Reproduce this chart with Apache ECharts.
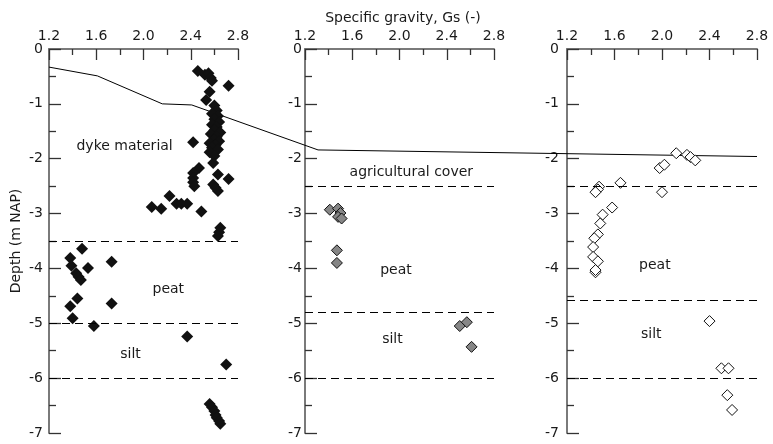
<!DOCTYPE html>
<html>
<head>
<meta charset="utf-8">
<script src="https://cdn.jsdelivr.net/npm/echarts@6/dist/echarts.min.js"></script>
<style>
  html, body { margin: 0; padding: 0; background: #fff; }
  #chart { width: 773px; height: 444px; }
</style>
</head>
<body>
<div id="chart"></div>
<script>
// ---- data ----
const gsMin = 1.2, gsMax = 2.8, gsStep = 0.4;
const depthMin = -7, depthMax = 0, depthStep = 1;

const titleText = 'Specific gravity, Gs (-)';
const yName = 'Depth (m NAP)';

// Panel 1 (dyke) : [Gs, depth]
const panel1Points = [
  [2.46,-0.40],[2.52,-0.47],[2.55,-0.44],[2.57,-0.53],[2.58,-0.58],[2.72,-0.67],[2.56,-0.78],[2.53,-0.93],
  [2.60,-1.03],[2.62,-1.12],[2.58,-1.18],[2.63,-1.22],[2.60,-1.28],[2.64,-1.33],[2.58,-1.38],[2.62,-1.42],
  [2.60,-1.48],[2.65,-1.52],[2.57,-1.55],[2.62,-1.60],[2.60,-1.65],[2.64,-1.68],[2.56,-1.72],[2.61,-1.75],
  [2.58,-1.80],[2.63,-1.83],[2.56,-1.88],[2.42,-1.70],[2.60,-1.95],
  [2.59,-2.08],[2.47,-2.17],[2.42,-2.26],[2.42,-2.35],[2.42,-2.43],[2.43,-2.50],[2.63,-2.29],[2.72,-2.37],
  [2.59,-2.47],[2.61,-2.53],[2.63,-2.59],[2.22,-2.68],[2.07,-2.88],[2.15,-2.91],[2.28,-2.82],[2.32,-2.82],
  [2.37,-2.82],[2.49,-2.96],[2.65,-3.26],[2.64,-3.34],[2.63,-3.41],
  [1.48,-3.64],[1.38,-3.81],[1.39,-3.95],[1.53,-3.99],[1.73,-3.88],[1.43,-4.09],[1.45,-4.15],[1.47,-4.21],
  [1.44,-4.55],[1.38,-4.69],[1.73,-4.64],[1.40,-4.91],[1.58,-5.05],
  [2.37,-5.24],[2.70,-5.75],
  [2.56,-6.47],[2.58,-6.53],[2.60,-6.60],[2.61,-6.67],[2.62,-6.72],[2.64,-6.78],[2.65,-6.83]
];
// Panel 2
const panel2Points = [
  [1.41,-2.93],[1.48,-2.91],[1.50,-2.99],[1.48,-3.06],[1.51,-3.09],[1.47,-3.67],[1.47,-3.90],
  [2.51,-5.05],[2.57,-4.98],[2.61,-5.43]
];
// Panel 3
const panel3Points = [
  [2.12,-1.90],[2.21,-1.93],[2.24,-1.97],[2.28,-2.03],[1.98,-2.17],[2.02,-2.11],[2.00,-2.61],
  [1.65,-2.44],[1.47,-2.51],[1.46,-2.56],[1.44,-2.61],[1.58,-2.89],[1.50,-3.02],[1.48,-3.18],
  [1.46,-3.38],[1.43,-3.45],[1.42,-3.61],[1.42,-3.79],[1.46,-3.87],[1.44,-4.07],[1.44,-4.03],
  [2.40,-4.96],[2.50,-5.82],[2.56,-5.82],[2.55,-6.31],[2.59,-6.58]
];

// Layer boundaries (dashed)
const panel1Layers = [-3.5, -5.0, -6.0];
const panel2Layers = [-2.5, -4.8, -6.0];
const panel3Layers = [-2.5, -4.58, -6.0];

// Layer names: [Gs, depth, name]
const panel1Labels = [[1.84,-1.78,'dyke material'],[2.21,-4.38,'peat'],[1.89,-5.56,'silt']];
const panel2Labels = [[2.10,-2.25,'agricultural cover'],[1.97,-4.04,'peat'],[1.94,-5.29,'silt']];
const panel3Labels = [[1.94,-3.95,'peat'],[1.91,-5.20,'silt']];

// Ground surface profile across the three panels (section position, depth)
const profileX = [1.2, 1.61, 2.16, 2.41, 3.48, 7.2];
const profileDepth = [-0.33, -0.49, -1.00, -1.02, -1.84, -1.96];

// ---- chart ----
const FONT = 'DejaVu Sans';
const chart = echarts.init(document.getElementById('chart'), null, { renderer: 'canvas' });

const gridTop = 49, gridH = 384;
const grids = [
  { left: 49, top: gridTop, width: 189, height: gridH },
  { left: 305, top: gridTop, width: 189, height: gridH },
  { left: 567, top: gridTop, width: 190, height: gridH },
  { left: 49, top: gridTop, width: 708, height: gridH }
];

const axisLineStyle = { color: '#7a7a7a', width: 2 };
const tickStyle = { color: '#333', width: 1.3 };

function xAx(i) {
  return {
    gridIndex: i, type: 'value', position: 'top',
    min: gsMin, max: gsMax, interval: gsStep,
    axisLine: { show: true, onZero: false, lineStyle: axisLineStyle },
    axisTick: { show: true, inside: true, length: 11, lineStyle: tickStyle },
    minorTick: { show: true, splitNumber: 2, length: 6, lineStyle: tickStyle },
    splitLine: { show: false },
    axisLabel: { margin: 6, fontFamily: FONT, fontSize: 14, color: '#1a1a1a',
      formatter: v => v.toFixed(1), showMinLabel: true, showMaxLabel: true }
  };
}
function yAx(i, margin, named) {
  const o = {
    gridIndex: i, type: 'value',
    min: depthMin, max: depthMax, interval: depthStep,
    axisLine: { show: true, onZero: false, lineStyle: axisLineStyle },
    axisTick: { show: true, inside: true, length: 12, lineStyle: tickStyle },
    minorTick: { show: true, splitNumber: 2, length: 7, lineStyle: tickStyle },
    splitLine: { show: false },
    axisLabel: { margin: margin, fontFamily: FONT, fontSize: 14, color: '#1a1a1a',
      showMinLabel: true, showMaxLabel: true }
  };
  if (named) {
    o.name = yName;
    o.nameLocation = 'middle';
    o.nameGap = 26;
    o.nameTextStyle = { fontFamily: FONT, fontSize: 14, color: '#1a1a1a' };
  }
  return o;
}

function layerLines(vals) {
  return {
    silent: true, symbol: 'none',
    label: { show: false },
    lineStyle: { color: '#000', type: [8, 5], width: 1 },
    data: vals.map(v => ({ yAxis: v }))
  };
}
function labelSeries(i, arr) {
  return {
    type: 'scatter', xAxisIndex: i, yAxisIndex: i, silent: true, z: 5,
    symbolSize: 1, itemStyle: { color: 'rgba(0,0,0,0)', opacity: 1 },
    label: { show: true, position: 'inside', formatter: p => p.data[2],
      fontFamily: FONT, fontSize: 14, color: '#1a1a1a' },
    data: arr
  };
}

const option = {
  animation: false,
  backgroundColor: '#fff',
  title: {
    text: titleText, left: 398, textAlign: 'center', top: 6,
    textStyle: { fontFamily: FONT, fontSize: 14, fontWeight: 'normal', color: '#1a1a1a' }
  },
  grid: grids,
  xAxis: [xAx(0), xAx(1), xAx(2),
    { gridIndex: 3, type: 'value', min: 1.2, max: 7.2, show: false }],
  yAxis: [yAx(0, 6, true), yAx(1, 3, false), yAx(2, 8, false),
    { gridIndex: 3, type: 'value', min: depthMin, max: depthMax, show: false }],
  series: [
    {
      type: 'line', xAxisIndex: 3, yAxisIndex: 3, z: 1, silent: true,
      symbol: 'none', lineStyle: { color: '#000', width: 1 },
      data: profileX.map((x, k) => [x, profileDepth[k]])
    },
    {
      type: 'scatter', xAxisIndex: 0, yAxisIndex: 0, z: 3,
      symbol: 'diamond', symbolSize: 12,
      itemStyle: { color: '#111', opacity: 1 },
      data: panel1Points,
      markLine: layerLines(panel1Layers)
    },
    {
      type: 'scatter', xAxisIndex: 1, yAxisIndex: 1, z: 3,
      symbol: 'diamond', symbolSize: 11,
      itemStyle: { color: '#868686', borderColor: '#111', borderWidth: 1, opacity: 1 },
      data: panel2Points,
      markLine: layerLines(panel2Layers)
    },
    {
      type: 'scatter', xAxisIndex: 2, yAxisIndex: 2, z: 3,
      symbol: 'diamond', symbolSize: 11,
      itemStyle: { color: '#fff', borderColor: '#111', borderWidth: 1, opacity: 1 },
      data: panel3Points,
      markLine: layerLines(panel3Layers)
    },
    labelSeries(0, panel1Labels),
    labelSeries(1, panel2Labels),
    labelSeries(2, panel3Labels)
  ]
};
chart.setOption(option);
</script>
</body>
</html>
